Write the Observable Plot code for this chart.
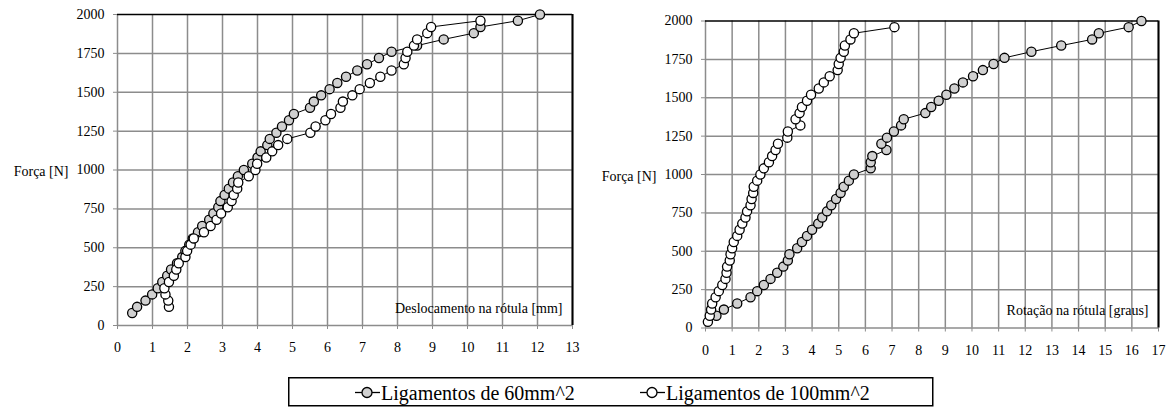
<!DOCTYPE html>
<html><head><meta charset="utf-8">
<script src="https://cdn.jsdelivr.net/npm/d3@7"></script>
<script src="https://cdn.jsdelivr.net/npm/@observablehq/plot@0.6"></script>
<style>
body{margin:0;background:#fff;}
#wrap{position:relative;width:1171px;height:407px;overflow:hidden;font-family:"Liberation Serif","Times New Roman",serif;}
#left{position:absolute;left:0;top:0}
#right{position:absolute;left:590px;top:0}
svg text{font-family:"Liberation Serif","Times New Roman",serif;}
</style></head>
<body><div id="wrap"><div id="left"></div><div id="right"></div></div>
<script>
// ---- data ----
const yTicks = [0, 250, 500, 750, 1000, 1250, 1500, 1750, 2000];
const xTicksLeft = [0,1,2,3,4,5,6,7,8,9,10,11,12,13];
const xTicksRight = [0,1,2,3,4,5,6,7,8,9,10,11,12,13,14,15,16,17];
const seriesNames = ["Ligamentos de 60mm^2", "Ligamentos de 100mm^2"];
const xLabelLeft = "Deslocamento na rótula [mm]";
const xLabelRight = "Rotação na rótula [graus]";
const yLabel = "Força [N]";

// Left chart: deslocamento [mm] vs força [N]
const forceL60 = [80,120,160,200,240,280,320,360,400,440,480,520,560,600,640,680,720,760,800,840,880,920,960,1000,1040,1080,1120,1160,1200,1240,1280,1320,1360,1400,1440,1480,1520,1560,1600,1640,1680,1720,1760,1800,1840,1880,1920,1960,2000];
const despL60 = [0.42,0.56,0.80,0.99,1.15,1.28,1.42,1.53,1.70,1.85,1.94,2.05,2.15,2.30,2.42,2.62,2.74,2.88,2.94,3.06,3.18,3.30,3.44,3.61,3.85,4.00,4.09,4.28,4.35,4.54,4.70,4.90,5.04,5.50,5.61,5.82,6.06,6.28,6.53,6.85,7.13,7.47,7.83,8.56,9.32,10.18,10.37,11.44,12.07];
const forceL100 = [120,160,200,240,280,320,360,400,440,480,520,560,600,640,680,720,760,800,840,880,920,960,1000,1040,1080,1120,1160,1200,1240,1280,1320,1360,1400,1440,1480,1520,1560,1600,1640,1680,1720,1760,1800,1840,1880,1920,1960];
const despL100 = [1.47,1.45,1.37,1.34,1.47,1.61,1.68,1.75,1.94,1.99,2.09,2.18,2.47,2.66,2.83,2.96,3.15,3.26,3.32,3.42,3.45,3.75,3.94,3.99,4.25,4.42,4.59,4.85,5.51,5.66,5.94,6.10,6.37,6.44,6.71,6.92,7.21,7.51,7.83,8.18,8.23,8.28,8.47,8.56,8.85,8.96,10.37];

// Right chart: rotação [graus] vs força [N]
const forceR60 = [80,120,160,200,240,280,320,360,400,440,480,520,560,600,640,680,720,760,800,840,880,920,960,1000,1040,1080,1120,1160,1200,1240,1280,1320,1360,1400,1440,1480,1520,1560,1600,1640,1680,1720,1760,1800,1840,1880,1920,1960,2000];
const rotR60 = [0.41,0.69,1.19,1.69,1.94,2.19,2.44,2.69,2.92,3.09,3.15,3.44,3.62,3.81,4.00,4.23,4.38,4.56,4.72,4.90,5.07,5.19,5.38,5.57,6.20,6.20,6.26,6.79,6.60,6.81,7.07,7.34,7.44,8.25,8.47,8.75,9.04,9.34,9.66,10.04,10.41,10.81,11.22,12.23,13.35,14.51,14.76,15.88,16.36];
const forceR100 = [40,80,120,160,200,240,280,320,360,400,440,480,520,560,600,640,680,720,760,800,840,880,920,960,1000,1040,1080,1120,1160,1200,1240,1280,1320,1360,1400,1440,1480,1520,1560,1600,1640,1680,1720,1760,1800,1840,1880,1920,1960];
const rotR100 = [0.09,0.16,0.21,0.25,0.38,0.50,0.63,0.75,0.79,0.81,0.91,0.94,1.00,1.06,1.19,1.28,1.38,1.50,1.56,1.69,1.73,1.79,1.81,1.94,2.06,2.19,2.38,2.50,2.63,2.72,3.07,3.09,3.56,3.38,3.53,3.62,3.81,3.96,4.25,4.44,4.66,4.96,5.00,5.07,5.19,5.23,5.44,5.57,7.09];

// ---- styles ----
const FONT = '"Liberation Serif", "Times New Roman", serif';
const GRID = "#8c8c8c";
const FILL60 = "#d0d0d0";
const FILL100 = "#ffffff";

const zip = (xs, fs) => xs.map((x, i) => ({x, f: fs[i]}));
const fmt = d => String(d);

function chart(opts) {
  const {s60, s100, xTicks, width, marginLeft, marginRight, marginTop, marginBottom, xLabel} = opts;
  const xmax = xTicks[xTicks.length - 1];
  const svg = Plot.plot({
    width, height: 360, marginLeft, marginRight, marginTop, marginBottom,
    style: {fontFamily: FONT, fontSize: "14px", color: "#000", background: "transparent", overflow: "visible"},
    x: {domain: [0, xmax], label: null},
    y: {domain: [0, 2000], label: null},
    marks: [
      Plot.ruleX(xTicks, {stroke: GRID, strokeWidth: 1.5}),
      Plot.ruleY(yTicks.slice(0, -1), {stroke: GRID, strokeWidth: 1.5}),
      Plot.axisX(xTicks, {tickSize: 4, tickPadding: 13, tickFormat: fmt, stroke: GRID, fill: "#000", fontSize: 14, label: null}),
      Plot.axisY(yTicks, {tickSize: 4, tickPadding: 9, tickFormat: fmt, stroke: GRID, fill: "#000", fontSize: 14, label: null}),
      Plot.text([yLabel], {frameAnchor: "left", textAnchor: "end", dx: -49, dy: 2, fontSize: 14, fill: "#000"}),
      Plot.text([xLabel], {frameAnchor: "bottom-right", textAnchor: "end", dx: -10, dy: -13, fontSize: 14, fill: "#000", ariaLabel: "xlabel"}),
      Plot.ruleY([2000], {stroke: "#000", strokeWidth: 1.5}),
      Plot.ruleX([xmax], {stroke: "#000", strokeWidth: 2}),
      Plot.line(s60, {x: "x", y: "f", stroke: "#000", strokeWidth: 1}),
      Plot.dot(s60, {x: "x", y: "f", r: 4.6, fill: FILL60, stroke: "#000", strokeWidth: 1.3}),
      Plot.line(s100, {x: "x", y: "f", stroke: "#000", strokeWidth: 1}),
      Plot.dot(s100, {x: "x", y: "f", r: 4.6, fill: FILL100, stroke: "#000", strokeWidth: 1.3})
    ]
  });
  return svg;
}

function addLabelBox(svg, plotRight, plotBottom) {
  const g = svg.querySelector('[aria-label="xlabel"]');
  if (!g) return;
  const b = g.getBBox();
  const r = document.createElementNS("http://www.w3.org/2000/svg", "rect");
  const top = b.y - 6;
  r.setAttribute("x", b.x - 3);
  r.setAttribute("y", top);
  r.setAttribute("width", (plotRight - 1.5) - (b.x - 3));
  r.setAttribute("height", (plotBottom - 1) - top);
  r.setAttribute("fill", "#fff");
  g.parentNode.insertBefore(r, g);
}

const leftSvg = chart({
  s60: zip(despL60, forceL60), s100: zip(despL100, forceL100), xTicks: xTicksLeft,
  width: 590, marginLeft: 117, marginRight: 18, marginTop: 14, marginBottom: 35, xLabel: xLabelLeft
});
document.getElementById("left").appendChild(leftSvg);
addLabelBox(leftSvg, 572, 325);

const rightSvg = chart({
  s60: zip(rotR60, forceR60), s100: zip(rotR100, forceR100), xTicks: xTicksRight,
  width: 581, marginLeft: 115, marginRight: 13, marginTop: 20.5, marginBottom: 32.5, xLabel: xLabelRight
});
document.getElementById("right").appendChild(rightSvg);
addLabelBox(rightSvg, 568, 327.5);

// ---- legend ----
const lg = d3.select("#wrap").append("svg")
  .attr("width", 646).attr("height", 30)
  .style("position", "absolute").style("left", "288px").style("top", "377px");
lg.append("rect").attr("x", 0.75).attr("y", 0.75).attr("width", 644).attr("height", 28)
  .attr("fill", "#fff").attr("stroke", "#000").attr("stroke-width", 1.5);
const items = [
  {label: seriesNames[0], fill: FILL60, x0: 67},
  {label: seriesNames[1], fill: FILL100, x0: 352}
];
items.forEach(it => {
  const g = lg.append("g");
  g.append("line").attr("x1", it.x0).attr("x2", it.x0 + 25).attr("y1", 15.5).attr("y2", 15.5)
    .attr("stroke", "#000").attr("stroke-width", 1.3);
  g.append("circle").attr("cx", it.x0 + 12).attr("cy", 15.5).attr("r", 5)
    .attr("fill", it.fill).attr("stroke", "#000").attr("stroke-width", 1.3);
  g.append("text").attr("x", it.x0 + 26).attr("y", 15.5).attr("dy", "0.35em")
    .attr("font-family", FONT).attr("font-size", 20).attr("fill", "#000").text(it.label);
});
</script>
</body></html>
